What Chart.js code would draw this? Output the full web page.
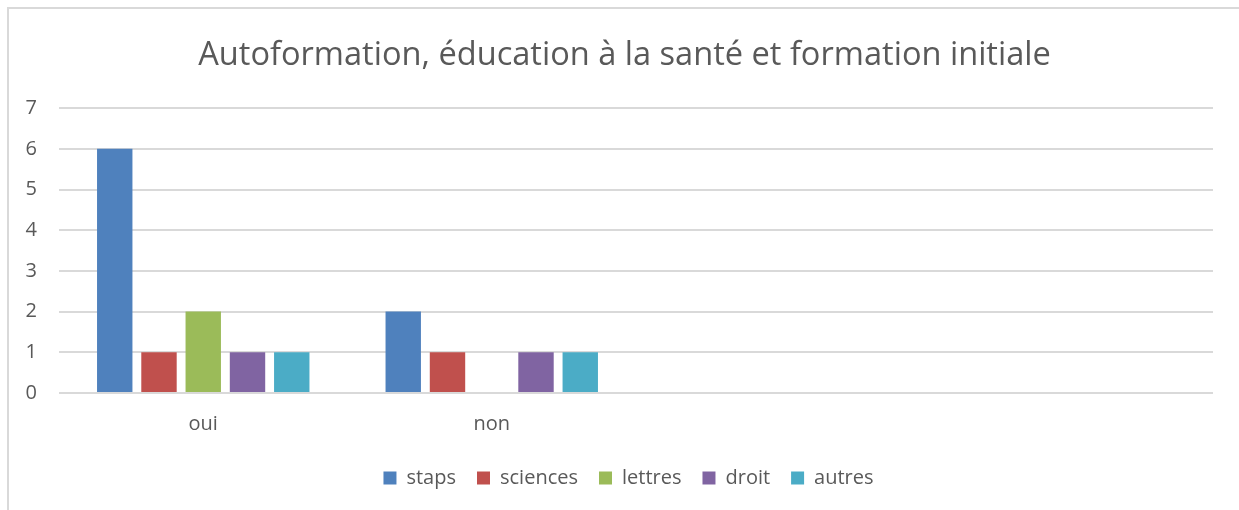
<!DOCTYPE html>
<html>
<head>
<meta charset="utf-8">
<script src="https://cdn.jsdelivr.net/npm/chart.js@4/dist/chart.umd.min.js"></script>
<style>
  html, body { margin: 0; padding: 0; background: #fff; }
  #wrap { position: relative; width: 1239px; height: 510px; overflow: hidden; }
  #frame { position: absolute; left: 7px; top: 7px; width: 1300px; height: 600px;
           border-left: 2px solid #d9d9d9; border-top: 2px solid #d9d9d9; box-sizing: border-box; }
  canvas { position: absolute; left: 0; top: 0; }
</style>
</head>
<body>
<div id="wrap">
  <div id="frame"></div>
  <canvas id="graph" width="1239" height="510"></canvas>
</div>
<script>
// categories (the two last ones are empty in the original sheet)
const categories = ['oui', 'non', '', ''];
const staps = [6, 2];
const sciences = [1, 1];
const lettres = [2, 0];
const droit = [1, 1];
const autres = [1, 1];
const yTicks = [0, 1, 2, 3, 4, 5, 6, 7];

const textColor = '#595959';
const fontFamily = '"Open Sans", sans-serif';

function serie(label, data, color) {
    return {
        label: label,
        data: data,
        backgroundColor: color,
        borderWidth: 0,
        categoryPercentage: 0.767,
        barPercentage: 0.8
    };
}

// title and legend are centred on the whole chart box in Excel, not on the plot
const shiftBlocks = {
    id: 'shiftBlocks',
    afterLayout(chart) {
        chart.titleBlock.left += 18;
        chart.titleBlock.right += 18;
        chart.legend.left += 22;
        chart.legend.right += 22;
    }
};

const canvas = document.getElementById('graph').getContext('2d');
const config = {
    type: 'bar',
    data: {
        labels: categories,
        datasets: [
            serie('staps', staps, '#4f81bd'),
            serie('sciences', sciences, '#c0504d'),
            serie('lettres', lettres, '#9bbb59'),
            serie('droit', droit, '#8064a2'),
            serie('autres', autres, '#4bacc6')
        ]
    },
    plugins: [shiftBlocks],
    options: {
        responsive: false,
        animation: false,
        layout: {
            padding: { left: 0, right: 26, top: 0, bottom: 12 }
        },
        plugins: {
            title: {
                display: true,
                text: 'Autoformation, éducation à la santé et formation initiale',
                color: textColor,
                font: { family: fontFamily, size: 32.6, weight: 'normal' },
                padding: { top: 36, bottom: 33 }
            },
            legend: {
                position: 'bottom',
                labels: {
                    color: textColor,
                    font: { family: fontFamily, size: 20 },
                    boxWidth: 13,
                    boxHeight: 13,
                    padding: 21
                }
            },
            tooltip: { enabled: false }
        },
        scales: {
            x: {
                grid: { display: false, drawTicks: false },
                border: { display: false },
                ticks: {
                    color: textColor,
                    font: { family: fontFamily, size: 20 },
                    padding: 19,
                    maxRotation: 0
                },
                afterFit: function(scale) { scale.height = 54; }
            },
            y: {
                min: 0,
                max: 7,
                afterBuildTicks: function(scale) {
                    scale.ticks = yTicks.map(v => ({ value: v }));
                },
                grid: { color: '#d9d9d9', lineWidth: 2, drawTicks: false },
                border: { display: false },
                ticks: {
                    color: textColor,
                    font: { family: fontFamily, size: 20 },
                    padding: 22
                },
                afterFit: function(scale) { scale.width = 59; }
            }
        }
    }
};
var chart = new Chart(canvas, config);
</script>
</body>
</html>
